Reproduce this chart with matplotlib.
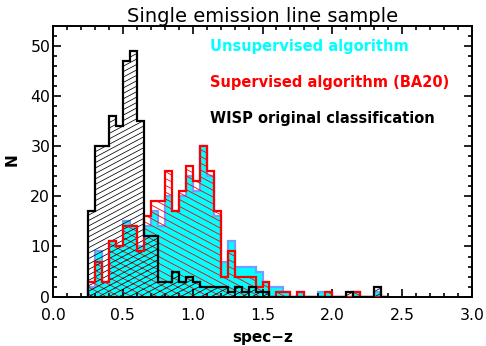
import numpy as np
import matplotlib.pyplot as plt
from matplotlib.collections import LineCollection
from matplotlib.ticker import MultipleLocator

# bins of 0.05 in spec-z, from 0.25 to 2.40
edges = np.round(np.arange(0.25, 2.4001, 0.05), 2)

# counts per bin
wisp = [17, 30, 30, 36, 34, 47, 49, 35, 12, 12, 3, 3, 5, 3, 4, 3, 2, 2, 2, 2, 1,
        2, 1, 2, 1, 1, 0, 0, 0, 0, 0, 0, 0, 0, 0, 0, 0, 1, 0, 0, 0, 2, 0]
unsup = [2, 9, 3, 11, 10, 15, 14, 10, 14, 17, 14, 20, 17, 20, 24, 21, 30, 24, 16, 7, 11,
         6, 6, 6, 5, 3, 2, 2, 1, 0, 1, 0, 0, 1, 1, 0, 0, 0, 1, 0, 0, 1, 0]
sup = [3, 7, 3, 11, 10, 14, 14, 9, 16, 19, 19, 25, 17, 21, 26, 23, 30, 25, 17, 4, 9,
       4, 4, 4, 2, 3, 0, 1, 1, 0, 1, 0, 0, 0, 1, 0, 0, 0, 1, 0, 0, 0, 0]

labels = ['Unsupervised algorithm', 'Supervised algorithm (BA20)',
          'WISP original classification']
label_colors = ['#00ffff', '#ff0000', 'black']


def hatch(ax, patch, angle, gap, color, lw, z):
    # slanted hatch lines (pixel angle/gap) clipped to a histogram patch
    (x0, y0), (x1, y1) = ax.transData.transform([(0, 0), (1, 1)])
    sx, sy = x1 - x0, y1 - y0
    m = np.tan(np.radians(angle)) * sx / sy
    db = gap / np.cos(np.radians(angle)) / sy
    xa, xb = 0.2, 2.45
    lo = min(0 - m * xa, 0 - m * xb)
    hi = max(56 - m * xa, 56 - m * xb)
    segs = [[(xa, b + m * xa), (xb, b + m * xb)] for b in np.arange(lo, hi, db)]
    lc = LineCollection(segs, colors=color, linewidths=lw, zorder=z)
    ax.add_collection(lc, autolim=False)
    lc.set_clip_path(patch)


fig = plt.figure(figsize=(4.86, 3.46), dpi=100)
ax = fig.add_axes([53 / 486, 49.3 / 346, 419 / 486, 270.7 / 346])
ax.set_xlim(0, 3)
ax.set_ylim(0, 53.9)

ax.stairs(unsup, edges, fill=True, facecolor='#00ffff', edgecolor='none', zorder=1)
ax.stairs(unsup, edges, color='#6fa0ff', lw=1.6, zorder=1.5)

red_patch = ax.stairs(sup, edges, fill=True, facecolor='none', edgecolor='none')
black_patch = ax.stairs(wisp, edges, fill=True, facecolor='none', edgecolor='none')
hatch(ax, red_patch, -28, 6.0, '#ff0000', 0.6, 2)
hatch(ax, black_patch, 28, 4.8, 'black', 0.55, 2.2)

ax.stairs(sup, edges, color='#ff0000', lw=1.6, zorder=3)
ax.stairs(wisp, edges, color='black', lw=1.6, zorder=4)

for i, (t, c) in enumerate(zip(labels, label_colors)):
    ax.text(0.375, 0.926 - 0.133 * i, t, color=c, fontsize=10.5, fontweight='bold',
            transform=ax.transAxes, va='center', ha='left')

ax.set_title('Single emission line sample', fontsize=14, pad=3)
ax.set_xlabel('spec\u2212z', fontsize=11, fontweight='bold', va='center')
ax.xaxis.set_label_coords(0.5, -0.149)
ax.set_ylabel('N', fontsize=11, fontweight='bold', va='center')
ax.yaxis.set_label_coords(-0.097, 0.505)

ax.xaxis.set_major_locator(MultipleLocator(0.5))
ax.xaxis.set_minor_locator(MultipleLocator(0.1))
ax.yaxis.set_major_locator(MultipleLocator(10))
ax.yaxis.set_minor_locator(MultipleLocator(2))
ax.xaxis.set_major_formatter(plt.FormatStrFormatter('%.1f'))
ax.tick_params(which='both', direction='in', top=True, right=True, width=1.2,
               labelsize=11.3)
ax.tick_params(which='major', length=6)
ax.tick_params(which='minor', length=3)
ax.tick_params(axis='x', pad=8)
ax.tick_params(axis='y', pad=2)
for s in ax.spines.values():
    s.set_linewidth(1.4)

fig.savefig('out.png', dpi=100)
